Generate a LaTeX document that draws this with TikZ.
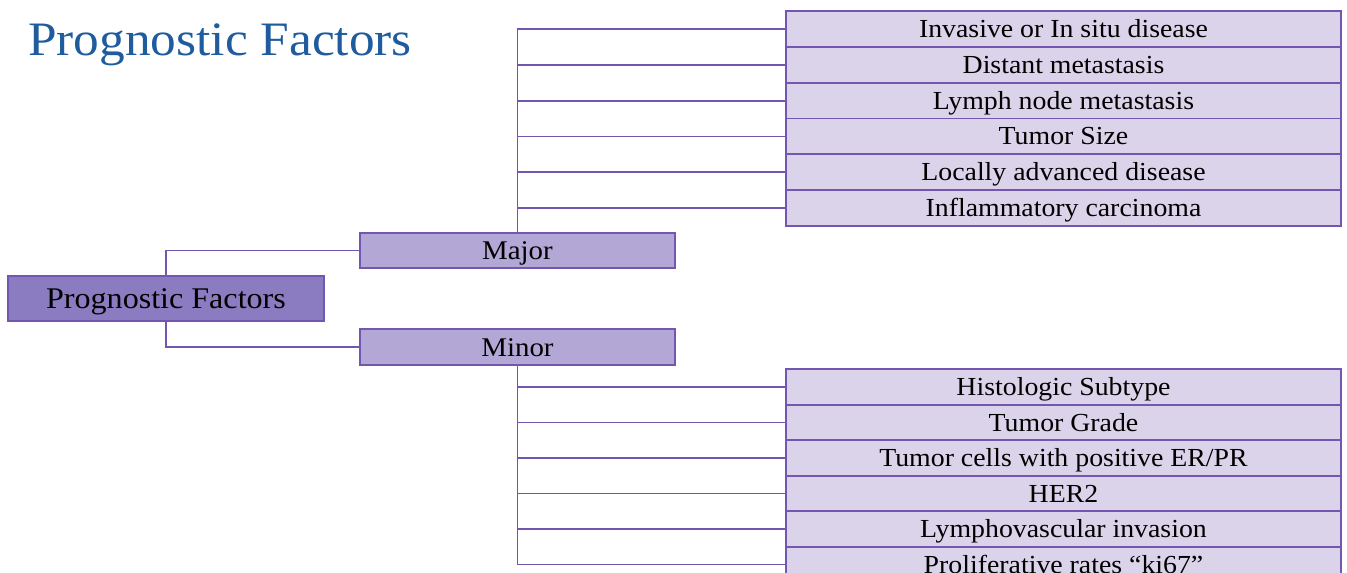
\documentclass[tikz,border=0pt]{standalone}
\usepackage{fontspec}
\setmainfont{Liberation Serif}[FakeStretch=1.07]
\definecolor{titleblue}{HTML}{1F5C9E}
\definecolor{linepurple}{HTML}{7256B0}
\definecolor{rootfill}{HTML}{8B7CC1}
\definecolor{midfill}{HTML}{B3A7D6}
\definecolor{leaffill}{HTML}{DBD3EA}
\begin{document}
\begin{tikzpicture}[x=1pt,y=-1pt,
  boxbase/.style={draw=linepurple, line width=1.8pt, inner sep=0pt, text depth=0pt, text=black},
  rootbox/.style={boxbase, fill=rootfill, minimum width=316pt, minimum height=45pt, text height=20pt, font=\fontsize{30}{32}\selectfont},
  midbox/.style={boxbase, fill=midfill, minimum width=315pt, minimum height=35.5pt, text height=18pt, font=\fontsize{27}{30}\selectfont},
  leafbox/.style={boxbase, fill=leaffill, minimum width=555pt, minimum height=35.8pt, text height=17pt, font=\fontsize{26}{28}\selectfont},
  conn/.style={draw=linepurple, line width=1.8pt}]
\clip (0,0) rectangle (1347,573);
\fill[white] (0,0) rectangle (1347,573);
\node[anchor=base west, text=titleblue, font=\fontsize{48}{52}\selectfont, inner sep=0pt] (title) at (28,55) {Prognostic Factors};
\node[rootbox] (root) at (166,298.5) {Prognostic Factors};
\node[midbox] (major) at (517.5,250.5) {Major};
\node[midbox] (minor) at (517.5,347) {Minor};
\foreach \t [count=\i from 0] in {Invasive or In situ disease, Distant metastasis, Lymph node metastasis, Tumor Size, Locally advanced disease, Inflammatory carcinoma}{
  \node[leafbox] (u\i) at (1063.5,{29+35.83*\i}) {\t};
}
\foreach \t [count=\i from 0] in {Histologic Subtype, Tumor Grade, Tumor cells with positive ER/PR, HER2, Lymphovascular invasion, Proliferative rates “ki67”}{
  \node[leafbox] (l\i) at (1063.5,{387+35.5*\i}) {\t};
}
\draw[conn] (root.north) |- (major.west);
\draw[conn] (root.south) |- (minor.west);
\foreach \i in {0,...,5}{
  \draw[conn] (major.north) |- (u\i.west);
  \draw[conn] (minor.south) |- (l\i.west);
}
\end{tikzpicture}
\end{document}
